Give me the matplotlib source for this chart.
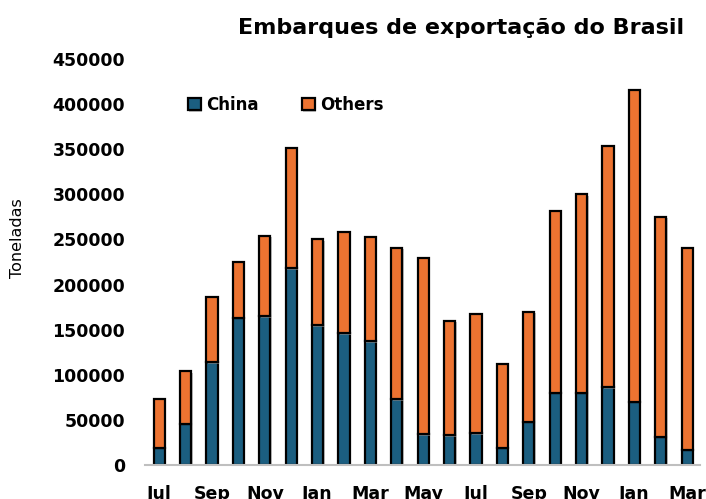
import matplotlib.pyplot as plt
import matplotlib.patheffects as pe
import numpy as np

months = ["Jul", "Aug", "Sep", "Oct", "Nov", "Dec", "Jan", "Feb", "Mar", "Apr", "May",
          "Jun", "Jul", "Aug", "Sep", "Oct", "Nov", "Dec", "Jan", "Feb", "Mar"]
totals = [73000, 104000, 186000, 225000, 254000, 351000, 250000, 258000, 253000, 241000, 229000,
          160000, 167000, 112000, 170000, 281000, 300000, 353000, 416000, 275000, 240000]
china = [19000, 46000, 114000, 163000, 165000, 218000, 155000, 146000, 137000, 73000, 34000,
         33000, 35000, 19000, 48000, 80000, 80000, 86000, 70000, 31000, 17000]
others = [t - c for t, c in zip(totals, china)]

blue = "#1b5e80"
orange = "#ec7331"

fig = plt.figure(figsize=(7.06, 4.99), dpi=100)
ax = fig.add_axes([0.205, 0.068, 0.787, 0.814])

x = np.arange(len(months))
shadow = [pe.SimplePatchShadow(offset=(1, -1), shadow_rgbFace="#999999", alpha=0.6), pe.Normal()]
b1 = ax.bar(x, china, width=0.42, color=blue, edgecolor="black", linewidth=1.6, label="China")
b2 = ax.bar(x, others, width=0.42, bottom=china, color=orange, edgecolor="black", linewidth=1.6,
            label="Others")
for b in list(b1) + list(b2):
    b.set_path_effects(shadow)

ax.set_ylim(0, 450000)
ax.set_xlim(-0.55, 20.5)
ax.set_yticks(np.arange(0, 450001, 50000))
ax.set_yticklabels([str(v) for v in range(0, 450001, 50000)], fontsize=12.5, fontweight="bold")
ax.set_xticks(x[::2])
ax.set_xticklabels(months[::2], fontsize=12.5, fontweight="bold")
ax.tick_params(axis="both", length=0)
ax.tick_params(axis="x", pad=14)
ax.tick_params(axis="y", pad=14)

for s in ["top", "right", "left"]:
    ax.spines[s].set_visible(False)
ax.spines["bottom"].set_color("#bfbfbf")
ax.spines["bottom"].set_linewidth(1.5)

ax.set_ylabel("Toneladas", fontsize=11.5)
ax.yaxis.set_label_coords(-0.215, 0.559)

ax.legend(loc="center left", bbox_to_anchor=(0.05, 0.887), ncol=2, frameon=False,
          prop={"size": 12, "weight": "bold"}, handlelength=0.8, handleheight=0.8,
          handletextpad=0.3, columnspacing=2.6)

fig.text(684 / 706, 1 - 28 / 499, "Embarques de exportação do Brasil", ha="right", va="center",
         fontsize=16, fontweight="heavy", family="DejaVu Sans")

fig.savefig("out.png", dpi=100)
